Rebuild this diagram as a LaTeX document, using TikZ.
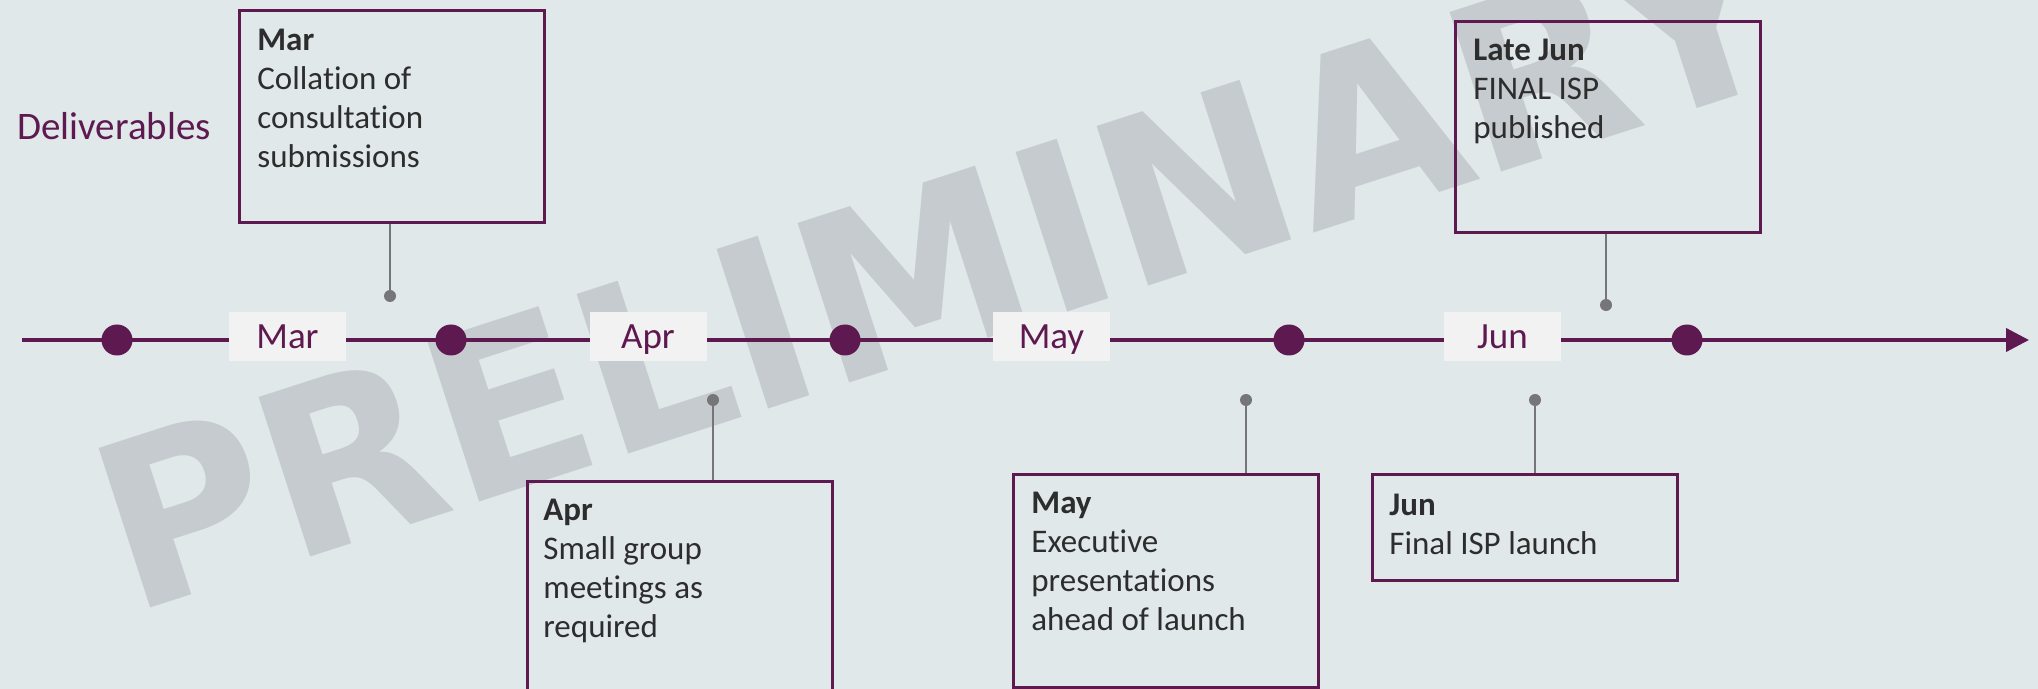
\documentclass[tikz,border=0pt]{standalone}
\usepackage{fontspec}
\setmainfont{Carlito}[Ligatures=NoCommon]
\newfontfamily\stampfont{DejaVu Sans}
\usetikzlibrary{arrows.meta}

\definecolor{bgcol}{RGB}{224,232,234}
\definecolor{plum}{RGB}{94,26,80}
\definecolor{stampgrey}{RGB}{198,203,207}
\definecolor{pingrey}{RGB}{118,118,120}
\definecolor{tagfill}{RGB}{242,242,242}
\definecolor{ink}{RGB}{45,45,45}

\tikzset{
  stamp/.style={rotate=17.9, anchor=base west, inner sep=0pt, text=stampgrey,
    font=\stampfont\bfseries\fontsize{115}{115}\selectfont},
  axis/.style={draw=plum, line width=2pt, -{Triangle[length=11.5pt,width=11.5pt]}},
  tag/.style={fill=tagfill, minimum width=58.5pt, minimum height=24.5pt, inner sep=0pt,
    text=plum, text height=11.9pt, text depth=0pt, font=\fontsize{18.5}{20}\selectfont},
  bigdot/.style={circle, fill=plum, minimum size=15.5pt, inner sep=0pt},
  pin/.style={circle, fill=pingrey, minimum size=6pt, inner sep=0pt},
  stem/.style={draw=pingrey, line width=1pt},
  evbox/.style={draw=plum, line width=1.3pt, anchor=north west, inner sep=0pt,
    minimum width=152.5pt},
  evtext/.style={anchor=base west, align=left, inner sep=0pt, text=ink,
    font=\fontsize{16.5}{19.5}\selectfont}
}

\begin{document}
\begin{tikzpicture}[x=0.5pt,y=-0.5pt]
\useasboundingbox[fill=bgcol] (0,0) rectangle (2038,689);

% watermark, behind everything
\node[stamp] (stamp) at (130,615) {PRELIMINARY};

% time axis
\coordinate (axstart) at (22,340);
\coordinate (axend) at (2029,340);
\draw[axis] (axstart) -- (axend);

\foreach \x/\m in {287.5/Mar,648/Apr,1051.5/May,1502.5/Jun} {
    \node[tag] (tag\m) at (\x,336.5) {\m};
}
\foreach \x in {117,451,845,1289,1687} {
    \node[bigdot] (dot\x) at (\x,340) {};
}

\node[anchor=base west, inner sep=0pt, text=plum, font=\fontsize{19.5}{22}\selectfont]
  (deliv) at (17,140) {Deliverables};

% boxes above the axis
\node[evbox, minimum height=106pt] (marbox) at (238,9) {};
\node[evbox, minimum height=105.5pt] (latebox) at (1454,20) {};
% boxes below the axis
\node[evbox, minimum height=106.5pt] (aprbox) at (526,480) {};
\node[evbox, minimum height=106.5pt] (maybox) at (1012,473) {};
\node[evbox, minimum height=53pt] (junbox) at (1371,473) {};

% pins and their stems
\node[pin] (pinmar) at (390,296) {};
\node[pin] (pinlate) at (1606,305) {};
\node[pin] (pinapr) at (713,400) {};
\node[pin] (pinmay) at (1246,400) {};
\node[pin] (pinjun) at (1535,400) {};
\draw[stem] (pinmar) -- (pinmar |- marbox.south);
\draw[stem] (pinlate) -- (pinlate |- latebox.south);
\draw[stem] (pinapr) -- (pinapr |- aprbox.north);
\draw[stem] (pinmay) -- (pinmay |- maybox.north);
\draw[stem] (pinjun) -- (pinjun |- junbox.north);

% box texts (base = last line)
\node[evtext] (martext) at ([shift={(19,159)}]marbox.north west)
  {\textbf{Mar}\\Collation of\\consultation\\submissions};
\node[evtext] (latetext) at ([shift={(19,119)}]latebox.north west)
  {\textbf{Late Jun}\\FINAL ISP\\published};
\node[evtext] (aprtext) at ([shift={(17,157)}]aprbox.north west)
  {\textbf{Apr}\\Small group\\meetings as\\required};
\node[evtext] (maytext) at ([shift={(19,157)}]maybox.north west)
  {\textbf{May}\\Executive\\presentations\\ahead of launch};
\node[evtext] (juntext) at ([shift={(18,81)}]junbox.north west)
  {\textbf{Jun}\\Final ISP launch};
\end{tikzpicture}
\end{document}
